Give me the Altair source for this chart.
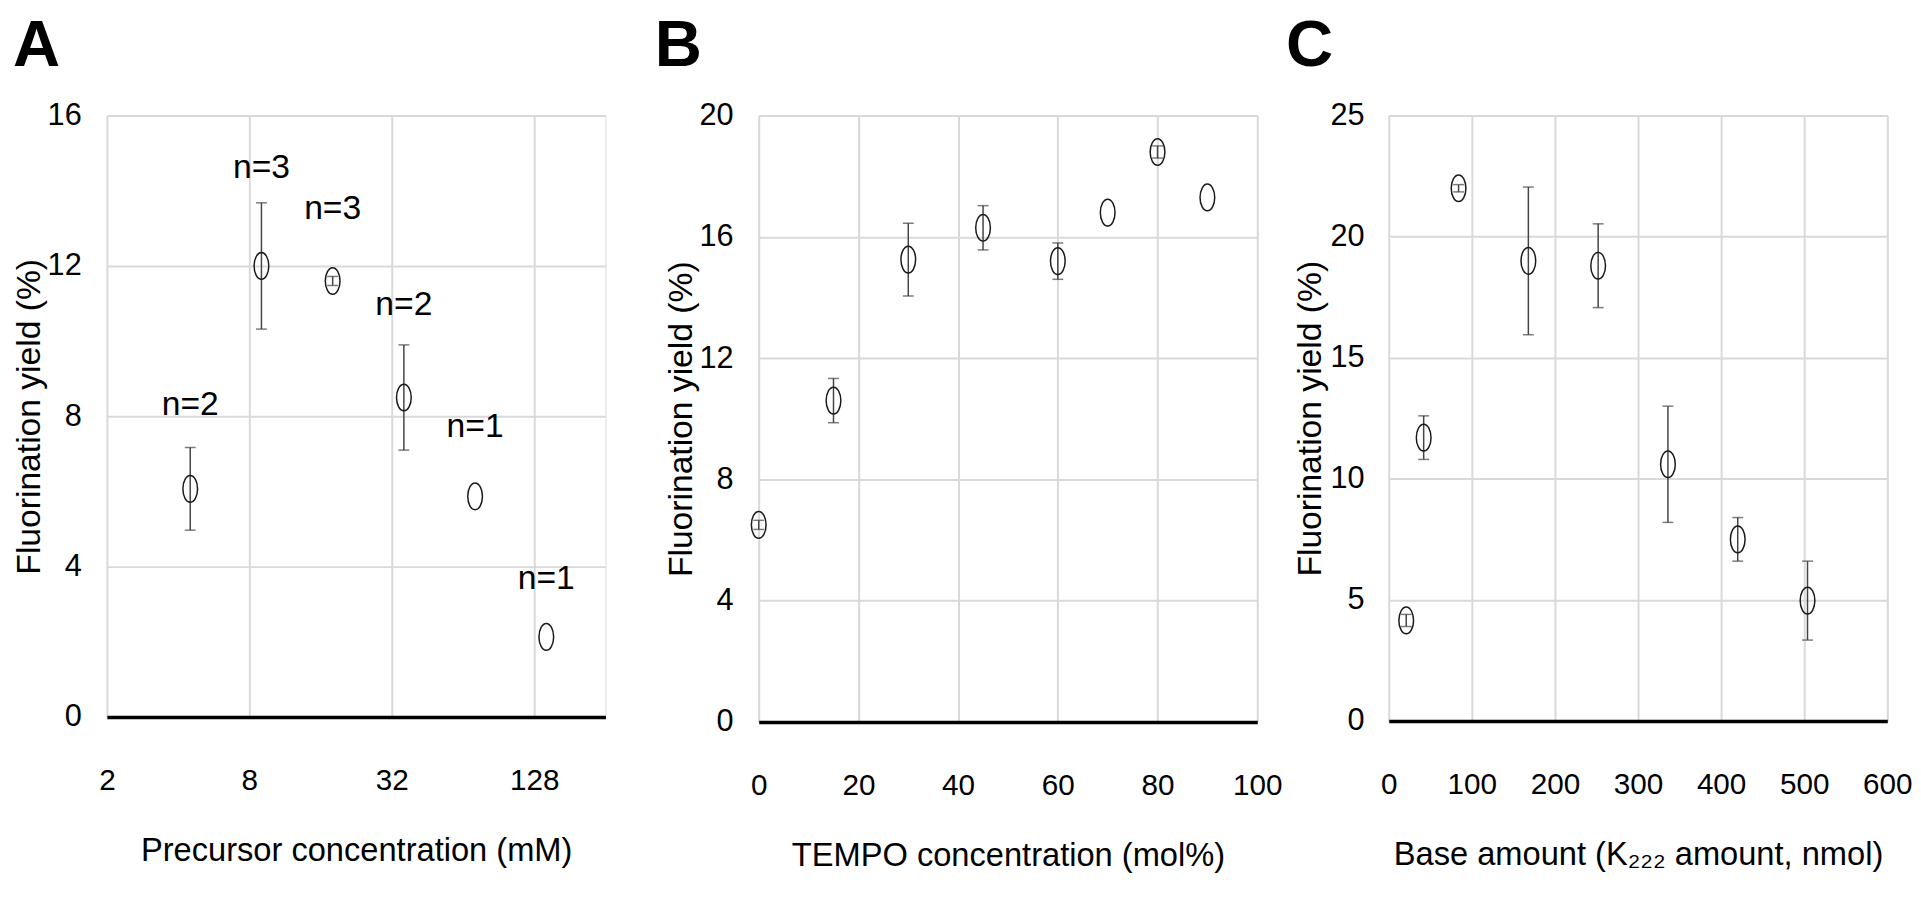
import altair as alt
import pandas as pd

# ---------------- data ----------------
# Panel A: precursor concentration
a_conc = [4.5, 9, 18, 36, 72, 144]
a_yield = [6.07, 12.0, 11.6, 8.5, 5.87, 2.13]
a_err = [1.1, 1.68, 0.12, 1.4, 0.0, 0.0]
a_n = ["n=2", "n=3", "n=3", "n=2", "n=1", "n=1"]
a_label_y = [8.3, 14.6, 13.5, 10.95, 7.7, 3.66]

# Panel B: TEMPO concentration
b_tempo = [0, 15, 30, 45, 60, 70, 80, 90]
b_yield = [6.5, 10.6, 15.25, 16.3, 15.2, 16.8, 18.8, 17.3]
b_err = [0.15, 0.73, 1.2, 0.73, 0.6, 0.0, 0.2, 0.0]

# Panel C: base amount
c_base = [21, 42, 84, 168, 252, 336, 420, 504]
c_yield = [4.15, 11.7, 22.0, 19.0, 18.8, 10.6, 7.5, 4.97]
c_err = [0.25, 0.9, 0.15, 3.05, 1.73, 2.4, 0.9, 1.63]

# ---------------- styling ----------------
FONT = "'Liberation Sans', Arial, sans-serif"
ELLIPSE = "M0,-1A0.55,1 0 1,1 0,1A0.55,1 0 1,1 0,-1Z"
YTITLE = "Fluorination yield (%)"


def make_df(x, y, e):
    df = pd.DataFrame({"x": x, "y": y, "e": e})
    df["lo"] = df["y"] - df["e"]
    df["hi"] = df["y"] + df["e"]
    return df


def panel(df, xscale, xaxis, yscale, yaxis, w, h, letter, t_dx, labels=None):
    X = alt.X("x:Q", scale=xscale, axis=xaxis)
    Y = alt.Y("y:Q", scale=yscale, axis=yaxis)
    err = df[df["e"] > 0]
    base_e = alt.Chart(err)
    rule = base_e.mark_rule(color="#444", strokeWidth=1.5).encode(
        x=X, y=alt.Y("lo:Q", scale=yscale, axis=yaxis), y2="hi:Q")
    cap_lo = base_e.mark_tick(orient="horizontal", color="#444", size=11, thickness=1.5).encode(
        x=X, y=alt.Y("lo:Q", scale=yscale, axis=yaxis))
    cap_hi = base_e.mark_tick(orient="horizontal", color="#444", size=11, thickness=1.5).encode(
        x=X, y=alt.Y("hi:Q", scale=yscale, axis=yaxis))
    pts = alt.Chart(df).mark_point(shape=ELLIPSE, size=729, filled=False, color="#1a1a1a",
                                   strokeWidth=1.5, opacity=1).encode(x=X, y=Y)
    layers = [rule, cap_lo, cap_hi, pts]
    if labels is not None:
        txt = alt.Chart(labels).mark_text(font=FONT, fontSize=34, color="black",
                                          baseline="middle", align="center").encode(
            x=X, y=alt.Y("ly:Q", scale=yscale, axis=yaxis), text="t:N")
        layers.append(txt)
    return alt.layer(*layers).properties(
        width=w, height=h,
        title=alt.TitleParams(text=letter, anchor="start", fontSize=66, fontWeight="bold",
                              font=FONT, color="black", offset=20, dx=t_dx))


def yaxis(values, extent, tp, lp):
    return alt.Axis(values=values, title=YTITLE, titleFont=FONT, titleFontSize=34,
                    titleFontWeight="normal", titleColor="black", titlePadding=tp,
                    labelFont=FONT, labelFontSize=31, labelColor="black", labelPadding=lp,
                    minExtent=extent, maxExtent=extent, ticks=False, tickSize=0,
                    labelOverlap=False, domain=False, grid=True, gridColor="#d9d9d9", gridWidth=2)


def xaxis(values, title, fmt=None):
    kw = {}
    if fmt:
        kw["format"] = fmt
    return alt.Axis(values=values, title=title, titleFont=FONT, titleFontSize=33,
                    titleFontWeight="normal", titleColor="black", titlePadding=40,
                    labelFont=FONT, labelFontSize=30, labelColor="black", labelPadding=49,
                    labelAngle=0, labelFlush=False, labelOverlap=False,
                    minExtent=79, maxExtent=79, ticks=False, tickSize=0,
                    domain=True, domainColor="black", domainWidth=3.5,
                    grid=True, gridColor="#d9d9d9", gridWidth=2, **kw)


dfA = make_df(a_conc, a_yield, a_err)
labA = pd.DataFrame({"x": a_conc, "ly": a_label_y, "t": a_n})
dfB = make_df(b_tempo, b_yield, b_err)
dfC = make_df(c_base, c_yield, c_err)

chartA = panel(
    dfA,
    alt.Scale(type="log", base=2, domain=[2, 256], nice=False),
    xaxis([2, 8, 32, 128], "Precursor concentration (mM)", fmt="d"),
    alt.Scale(domain=[0, 16], nice=False),
    yaxis([0, 4, 8, 12, 16], 61, 0, 26),
    504, 608, "A", 0, labels=labA)

chartB = panel(
    dfB,
    alt.Scale(domain=[0, 100], nice=False),
    xaxis([0, 20, 40, 60, 80, 100], "TEMPO concentration (mol%)"),
    alt.Scale(domain=[0, 20], nice=False),
    yaxis([0, 4, 8, 12, 16, 20], 61, 0, 26),
    504, 613, "B", -10)

chartC = panel(
    dfC,
    alt.Scale(domain=[0, 600], nice=False),
    xaxis([0, 100, 200, 300, 400, 500, 600], "Base amount (K\u2082\u2082\u2082 amount, nmol)"),
    alt.Scale(domain=[0, 25], nice=False),
    yaxis([0, 5, 10, 15, 20, 25], 60, 2, 25),
    504, 612, "C", -8)

inner = alt.hconcat(chartA, chartB, spacing=48)
chart = alt.hconcat(inner, chartC, spacing=2).properties(
    padding={"left": 4, "top": 0, "right": 0, "bottom": 0}).configure_view(
    stroke="black", strokeWidth=2.5).configure(background="white")

chart.save("out.html", embed_options={"renderer": "svg", "actions": False})
